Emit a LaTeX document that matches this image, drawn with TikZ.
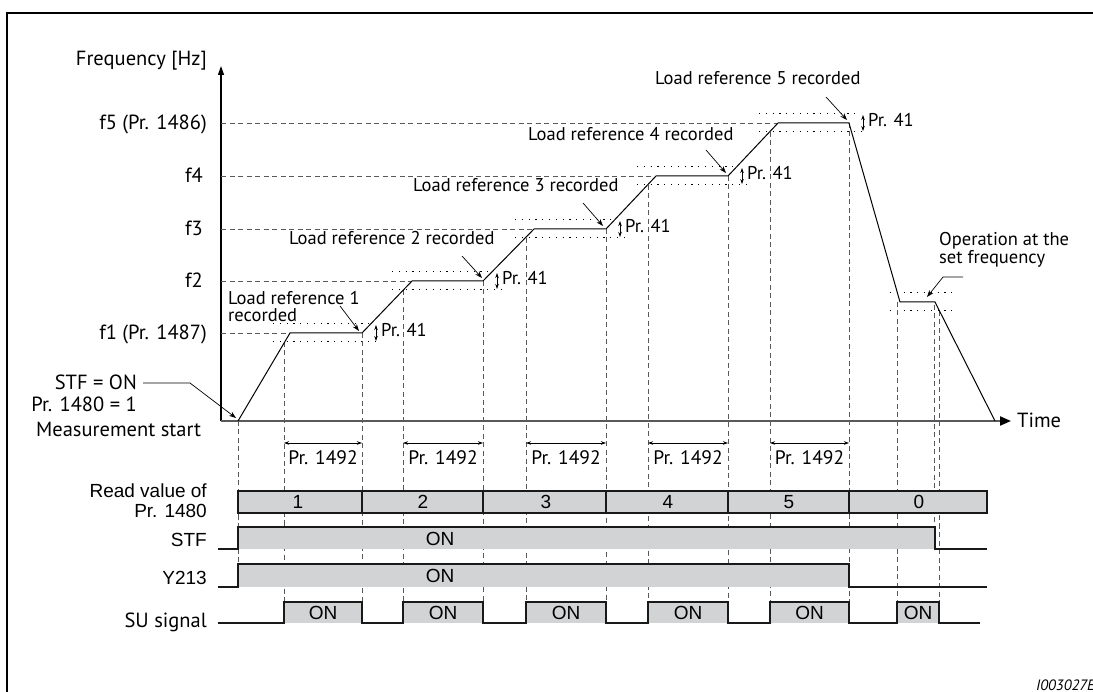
\documentclass[tikz,border=0pt]{standalone}
\usepackage{fontspec}
\setmainfont{PT Sans}
\newfontfamily\arialfont{Liberation Sans}
\definecolor{SigGray} {RGB}{209,211,212}
\definecolor{LineGray}{RGB}{88,89,91}
\usetikzlibrary{arrows.meta,positioning,calc}

\begin{document}
\begin{tikzpicture}[x=1pt,y=-1pt,
  lbl/.style={font=\fontsize{20.5}{22}\selectfont,inner sep=0pt},
  note/.style={font=\fontsize{18.5}{18}\selectfont,inner sep=0pt,align=left},
  sig/.style={font=\arialfont\fontsize{19}{20}\selectfont,inner sep=0pt},
  lvl/.style={LineGray,dash pattern=on 5pt off 3.5pt,line width=0.9pt},
  band/.style={black,dash pattern=on 1.2pt off 5.6pt,line width=1pt},
  prof/.style={black,line width=1pt},
  wave/.style={black!90,line width=1.1pt},
  ptr/.style={-{Stealth[length=7pt,width=5pt]},line width=0.7pt},
  dim/.style={{Stealth[length=5pt,width=3.5pt]}-{Stealth[length=5pt,width=3.5pt]},
              line width=0.7pt}]
  \useasboundingbox (0,0) rectangle (1093,692);
  \draw[line width=2.5pt] (7,700) -- (7,13) -- (1100,13);

  % axes
  \coordinate (O) at (221,421);
  \coordinate (yt) at (221,66);
  \coordinate (xt) at (1011,421);
  \draw[line width=1.2pt,-{Triangle[length=9pt,width=6pt]}] (O) -- (yt);
  \draw[LineGray,line width=2pt,-{Triangle[length=11pt,width=9pt,color=black]}] (O) -- (xt);
  \node[lbl,anchor=base east] (fq) at (207,66) {Frequency [Hz]};
  \node[lbl,anchor=base west] (tm) at (1017,428) {Time};
  \node[lbl,anchor=base east] (f5) at (207,130) {f5 (Pr. 1486)};
  \node[lbl,anchor=base east] (f4) at (203,183) {f4};
  \node[lbl,anchor=base east] (f3) at (203,236) {f3};
  \node[lbl,anchor=base east] (f2) at (203,288) {f2};
  \node[lbl,anchor=base east] (f1) at (207,340) {f1 (Pr. 1487)};

  % levels and Pr. 41 bands
  \foreach \y/\x in {333/290,281/412,229/534,176/656,123/778}
    \draw[lvl] (221,\y) -- (\x,\y);
  \foreach \y/\s/\r/\n in {333/284/362/1,281/403/483/2,229/526/606/3,
                           176/648/728/4,123/770/849/5}{
    \draw[band] (\s-11,\y-9) -- (\r+8,\y-9);
    \draw[band] (\s-11,\y+9) -- (\r+18,\y+9);
    \draw[lvl] (\s,\y+9) -- (\s,602);
    \draw[lvl] (\r,\y) -- (\r,602);
    \coordinate (ba\n) at (\r+14,\y-8);
    \coordinate (bb\n) at (\r+14,\y+8);
    \draw[dim] (ba\n) -- (bb\n);
    \node[note,anchor=base west] (hy\n) at (\r+19,\y+4) {Pr. 41};
    \coordinate (ds\n) at (\s,443);
    \coordinate (dr\n) at (\r,443);
    \draw[dim] (ds\n) -- (dr\n);
    \node[note,font=\fontsize{19.5}{20}\selectfont] (pr\n) at ({(\s+\r)/2},458) {Pr. 1492};
  }
  \draw[band] (890,293) -- (953,293);
  \draw[band] (890,311) -- (953,311);
  \draw[lvl] (238,421) -- (238,587);
  \draw[lvl] (897,302) -- (897,602);
  \draw[lvl] (934,305) -- (934,527);
  \draw[lvl] (939,311) -- (939,602);

  % frequency profile
  \draw[prof] (238,421) -- (290,333) -- (362,333) -- (412,281) -- (483,281)
    -- (534,229) -- (606,229) -- (656,176) -- (728,176) -- (778,123)
    -- (849,123) -- (900,302) -- (935,302) -- (995,421);

  % notes
  \node[note,anchor=north west] (lr1) at (228,291) {Load reference 1\\[-1pt]recorded};
  \node[note,anchor=base west] (lr2) at (289,245) {Load reference 2 recorded};
  \node[note,anchor=base west] (lr3) at (413,192) {Load reference 3 recorded};
  \node[note,anchor=base west] (lr4) at (528,141) {Load reference 4 recorded};
  \node[note,anchor=base west] (lr5) at (655,85) {Load reference 5 recorded};
  \node[note,anchor=north west] (op) at (939,232) {Operation at the\\set frequency};
  \coordinate (a1) at (340,306);  \coordinate (b1) at (359,331);
  \coordinate (a2) at (462,256);  \coordinate (b2) at (482,278);
  \coordinate (a3) at (583,203);  \coordinate (b3) at (603,226);
  \coordinate (a4) at (706,150);  \coordinate (b4) at (726,173);
  \coordinate (a5) at (826,97);   \coordinate (b5) at (847,120);
  \foreach \n in {1,...,5}
    \draw[ptr] (a\n) -- (b\n);
  \coordinate (oa) at (963,277);
  \coordinate (ob) at (927,297);
  \draw[ptr] (oa) -- (943,277) -- (ob);

  \node[lbl,anchor=base east] (son) at (137,390) {STF = ON};
  \node[lbl,anchor=base east] (pon) at (137,412) {Pr. 1480 = 1};
  \node[lbl,anchor=base west] (ms) at (36,437) {Measurement start};
  \coordinate (sa) at (143,383);
  \coordinate (sb) at (236,418);
  \draw[ptr] (sa) -- (190,383) -- (sb);

  % signals
  \draw[wave,fill=SigGray] (238,491) rectangle (987,513);
  \foreach \r in {362,483,606,728,849}
    \draw[wave] (\r,491) -- (\r,513);
  \foreach \x/\v in {298/1,423/2,546/3,668/4,789/5,919/0}
    \node[sig] (rv\v) at (\x,502) {\v};
  \fill[SigGray] (238,527) rectangle (935,549);
  \draw[wave] (218,549) -- (238,549) -- (238,527) -- (935,527) -- (935,549) -- (987,549);
  \fill[SigGray] (238,564) rectangle (849,587);
  \draw[wave] (218,587) -- (238,587) -- (238,564) -- (849,564) -- (849,587) -- (987,587);
  \node[sig] (stfon) at (440,539) {ON};
  \node[sig] (yon) at (440,576) {ON};
  \foreach \s/\r/\n in {284/362/1,403/483/2,526/606/3,648/728/4,770/849/5,897/939/6}{
    \fill[SigGray] (\s,602) rectangle (\r,623);
    \node[sig] (su\n) at ({(\s+\r)/2},613) {ON};
  }
  \draw[wave] (218,623) -- (284,623) -- (284,602) -- (362,602) -- (362,623)
    -- (403,623) -- (403,602) -- (483,602) -- (483,623)
    -- (526,623) -- (526,602) -- (606,602) -- (606,623)
    -- (648,623) -- (648,602) -- (728,602) -- (728,623)
    -- (770,623) -- (770,602) -- (849,602) -- (849,623)
    -- (897,623) -- (897,602) -- (939,602) -- (939,623) -- (980,623);

  \node[sig,anchor=east,align=right,font=\arialfont\fontsize{19}{20}\selectfont]
       (rd) at (207,501) {Read value of\\Pr. 1480};
  \node[sig,anchor=base east] (stf) at (207,546) {STF};
  \node[sig,anchor=base east] (y213) at (207,584) {Y213};
  \node[lbl,anchor=base east] (su) at (207,627) {SU signal};
  \node[font=\itshape\fontsize{15}{16}\selectfont,inner sep=0pt,anchor=base west]
       (id) at (1036,690) {I003027E};
\end{tikzpicture}
\end{document}
